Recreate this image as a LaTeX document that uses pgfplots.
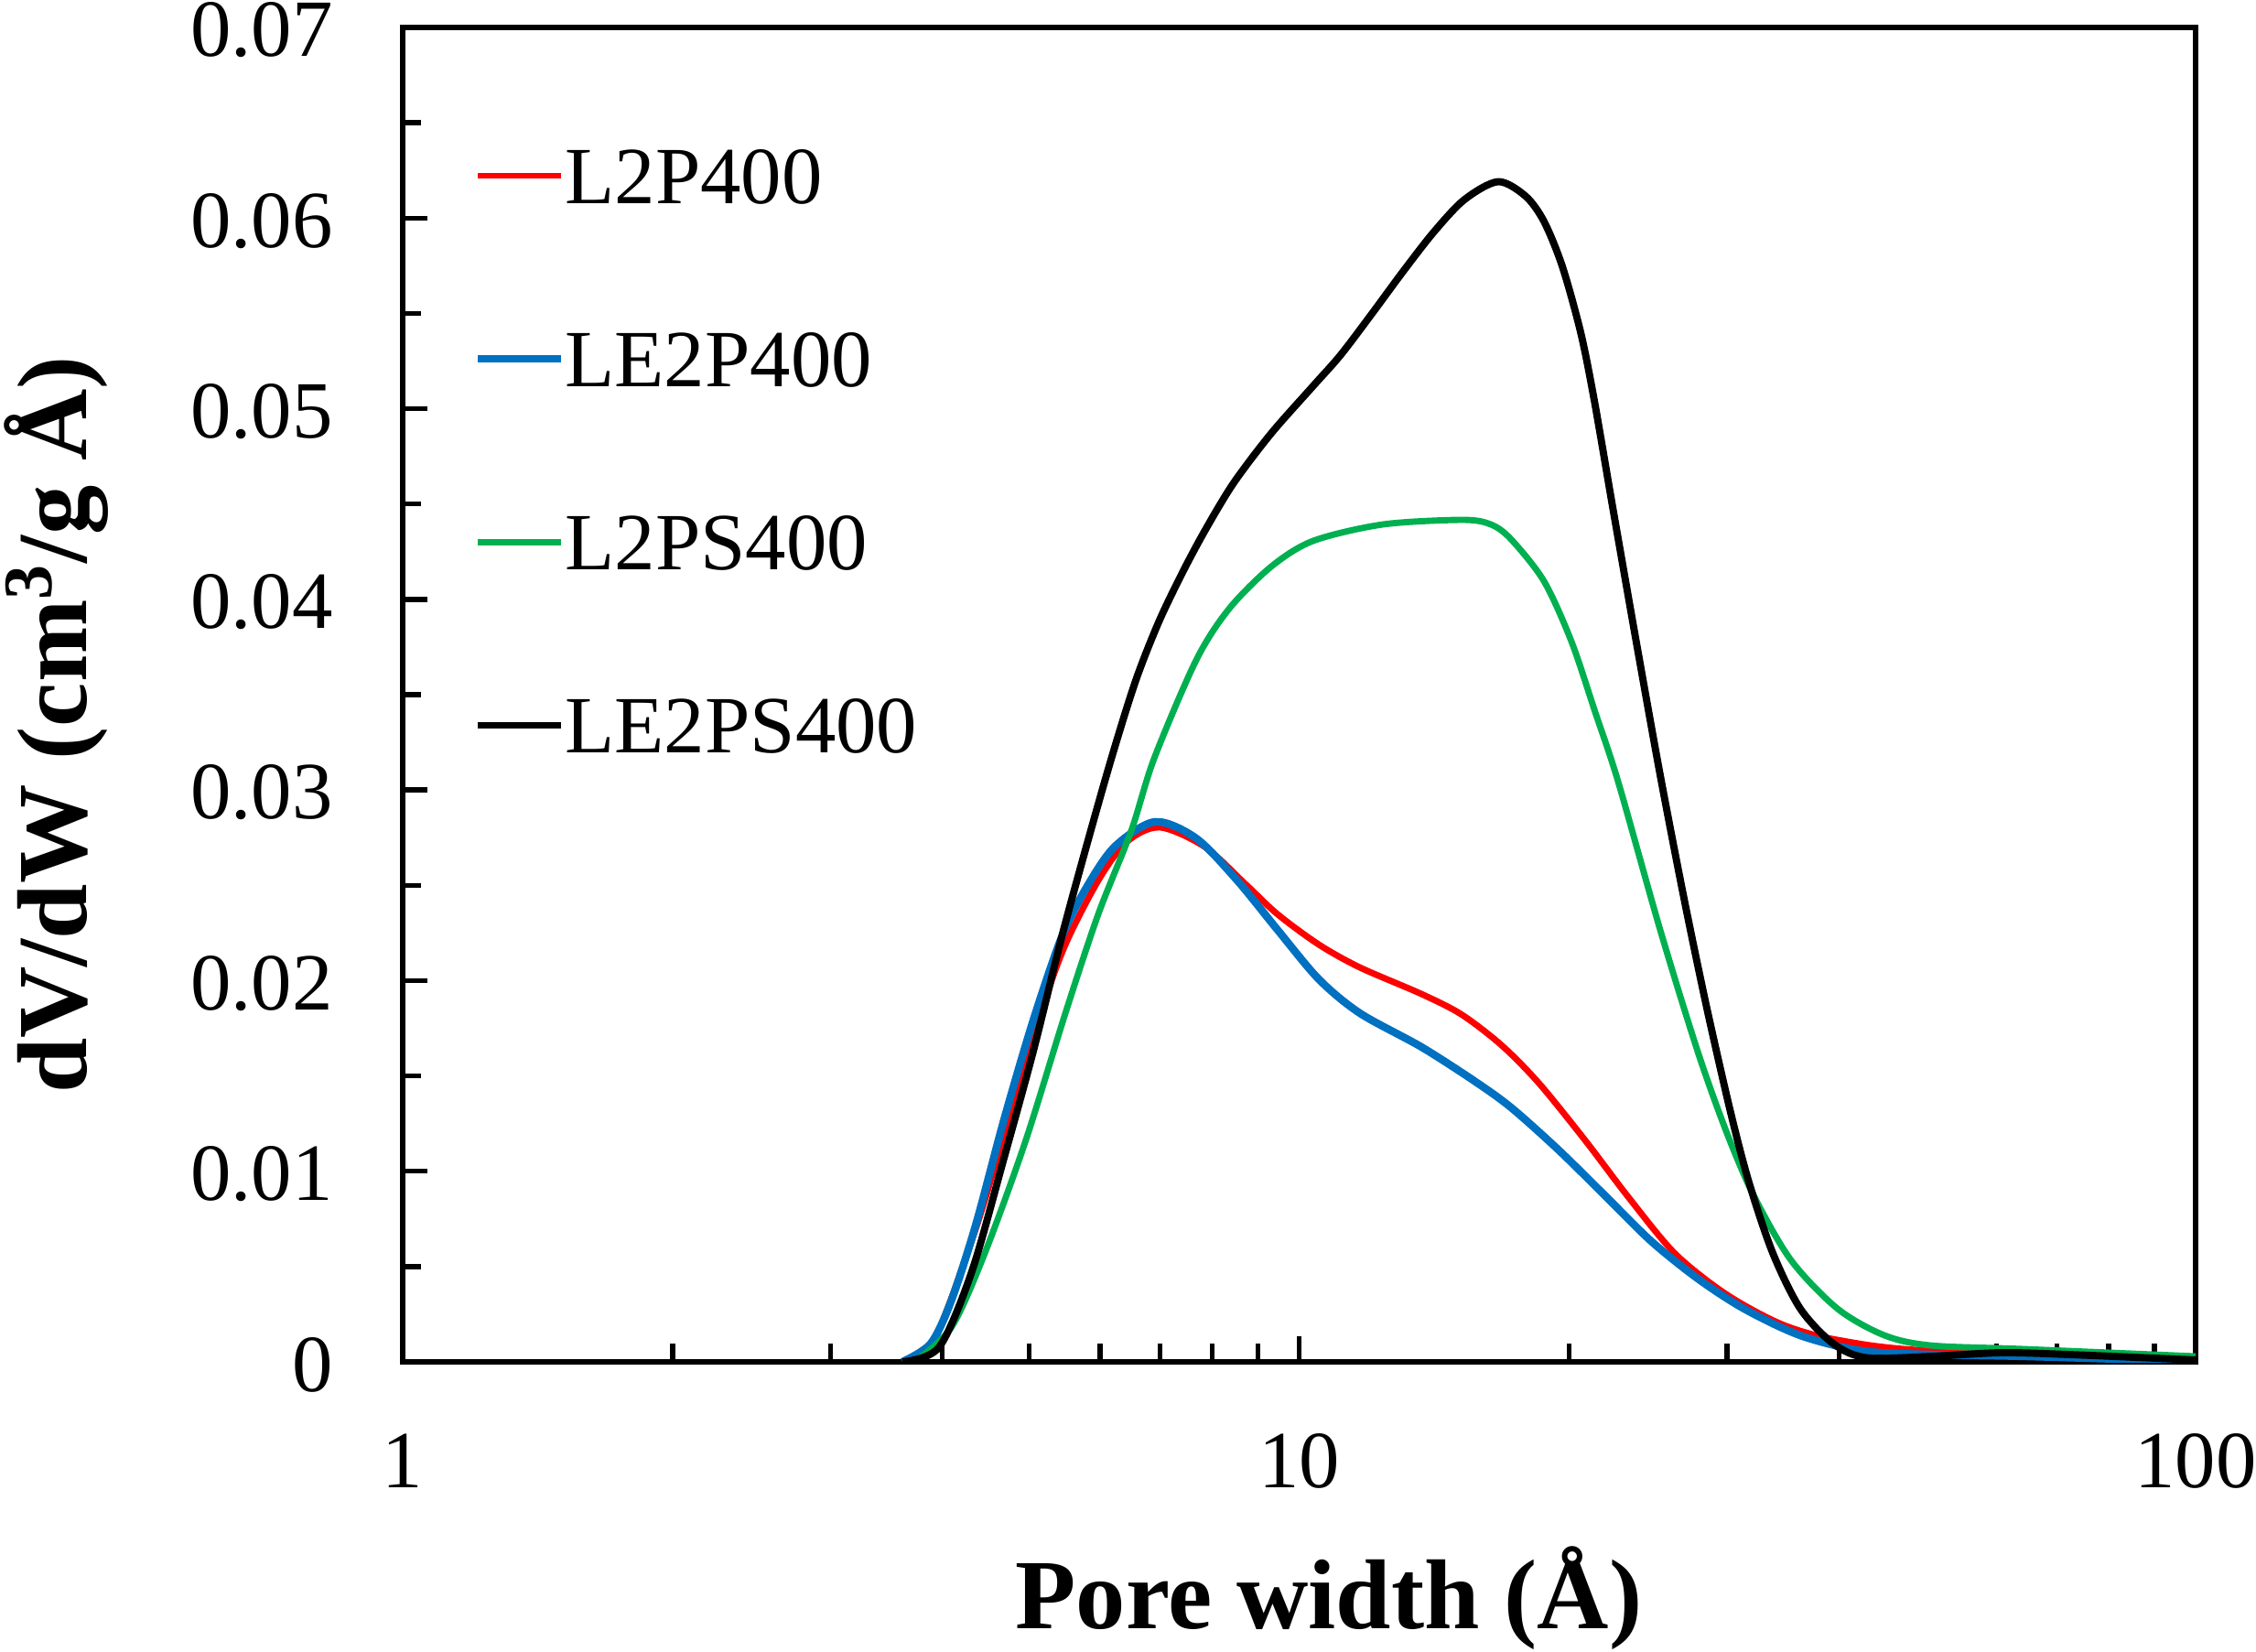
\documentclass[border=0pt]{standalone}
\usepackage{pgfplots}
\pgfplotsset{compat=1.18}
\usepackage{pgfplotstable}
\usepackage{fontspec}
\setmainfont{Liberation Serif}
\definecolor{cred}{RGB}{255,0,0}
\definecolor{cblue}{RGB}{0,112,192}
\definecolor{cgreen}{RGB}{0,176,80}

\pgfplotstableread{
x y
3.644 0
3.919 0.00115
4.356 0.00696
4.741 0.01272
5.148 0.01829
5.486 0.02189
5.969 0.02525
6.420 0.02727
6.987 0.02804
7.842 0.02703
8.714 0.02506
9.462 0.02348
10.52 0.02189
11.69 0.02069
13.69 0.01930
15.18 0.01822
16.83 0.01660
18.54 0.01459
20.89 0.01157
23.28 0.00866
26.25 0.00569
29.95 0.00355
34.56 0.00197
39.89 0.00115
50.70 0.00058
100 0.00019
}\redtab

\pgfplotstableread{
x y
3.609 0
3.882 0.00096
4.089 0.00317
4.356 0.00715
4.687 0.01272
5.051 0.01791
5.434 0.02228
5.789 0.02487
6.228 0.02703
6.906 0.02833
7.679 0.02746
8.532 0.02525
9.462 0.02266
10.52 0.02007
11.69 0.01829
13.69 0.01652
15.68 0.01474
17.23 0.01335
19.43 0.01116
21.90 0.00876
24.69 0.00634
27.84 0.00437
31.38 0.00278
36.22 0.00139
42.41 0.00058
50.70 0.00038
64.44 0.00029
100 0.00002
}\bluetab

\pgfplotstableread{
x y
3.721 0
4.089 0.00178
4.449 0.00557
4.947 0.01152
5.486 0.01829
5.969 0.02348
6.496 0.02785
6.890 0.03164
7.679 0.03682
8.355 0.03951
9.309 0.04172
10.37 0.04307
12.40 0.04393
15.21 0.04417
16.36 0.04393
17.23 0.04316
18.76 0.04095
20.13 0.03778
21.39 0.03409
22.69 0.03044
25.28 0.02266
27.84 0.01628
29.95 0.01210
32.13 0.00874
35.38 0.00533
39.89 0.00278
44.98 0.00139
50.70 0.00086
64.44 0.00067
100 0.00029
}\greentab

\pgfplotstableread{
x y
3.609 0
3.966 0.00077
4.315 0.00475
4.687 0.01071
5.051 0.01628
5.434 0.02228
5.789 0.02703
6.183 0.03175
6.573 0.03574
6.971 0.03880
7.410 0.04140
7.861 0.04365
8.453 0.04611
9.309 0.04871
10.37 0.05120
11.13 0.05283
12.08 0.05504
13.06 0.05720
14.14 0.05928
15.29 0.06097
16.67 0.06191
17.89 0.06115
18.76 0.05982
19.66 0.05747
20.61 0.05400
21.35 0.05040
22.42 0.04460
23.84 0.03744
25.28 0.03078
26.88 0.02429
28.50 0.01855
30.29 0.01310
31.75 0.00943
33.75 0.00572
36.22 0.00280
39.42 0.00096
42.91 0.00022
50.70 0.00029
60.75 0.00048
72.64 0.00038
100 0.00010
}\blacktab

\begin{document}
\begin{tikzpicture}
\begin{axis}[
  at={(0,0)}, anchor=south west,
  scale only axis, width=397.36pt, height=295.74pt,
  xmode=log, xmin=1, xmax=100, ymin=0, ymax=0.07,
  xtick={1,10,100}, xticklabels={1,10,100},
  minor xtick={2,3,4,5,6,7,8,9,20,30,40,50,60,70,80,90},
  ytick={0,0.01,0.02,0.03,0.04,0.05,0.06,0.07},
  yticklabels={0,0.01,0.02,0.03,0.04,0.05,0.06,0.07},
  minor ytick={0.005,0.015,0.025,0.035,0.045,0.055,0.065},
  scaled y ticks=false,
  tick pos=left,
  tick align=inside,
  major tick length=5.6pt, minor tick length=4pt,
  every tick/.style={black, line width=1.1pt},
  axis line style={line width=1.2pt},
  ticklabel style={font=\fontsize{18}{21}\selectfont, inner sep=0pt},
  yticklabel style={xshift=-15.3pt, yshift=-0.6pt},
  xticklabel style={yshift=-15.8pt},
  xlabel={Pore width (Å)},
  ylabel={dV/dW (cm\textsuperscript{3}/g Å)},
  label style={font=\fontsize{22}{26}\selectfont\bfseries, inner sep=0pt},
  xlabel style={at={(axis description cs:0.5166,-0.1996)}, anchor=base},
  ylabel style={at={(axis description cs:-0.1766,0.4774)}, anchor=base},
  legend cell align=left,
  legend style={at={(axis description cs:0.0398,0.9095)}, anchor=north west,
    draw=none, fill=none, inner sep=0pt, outer sep=0pt,
    row sep=28.4pt, column sep=0pt,
    font=\fontsize{18}{21}\selectfont,
    nodes={inner sep=0pt, text height=12.2pt, text depth=0pt}},
  legend image code/.code={\path[draw=none,fill=none] (0pt,-6.1pt) rectangle (18.5pt,6.1pt);
    \draw[#1] (0pt,0pt) -- (18.5pt,0pt);},
]
\addplot[cred, line width=1.4pt, smooth] table {\redtab};
\addlegendentry{L2P400}
\addplot[cblue, line width=1.7pt, smooth] table {\bluetab};
\addlegendentry{LE2P400}
\addplot[cgreen, line width=1.4pt, smooth] table {\greentab};
\addlegendentry{L2PS400}
\addplot[black, line width=1.6pt, smooth] table {\blacktab};
\addlegendentry{LE2PS400}
\end{axis}
\pgfresetboundingbox
\useasboundingbox (-89.25pt,-64.10pt) rectangle (410.75pt,301.83pt);
\end{tikzpicture}
\end{document}
